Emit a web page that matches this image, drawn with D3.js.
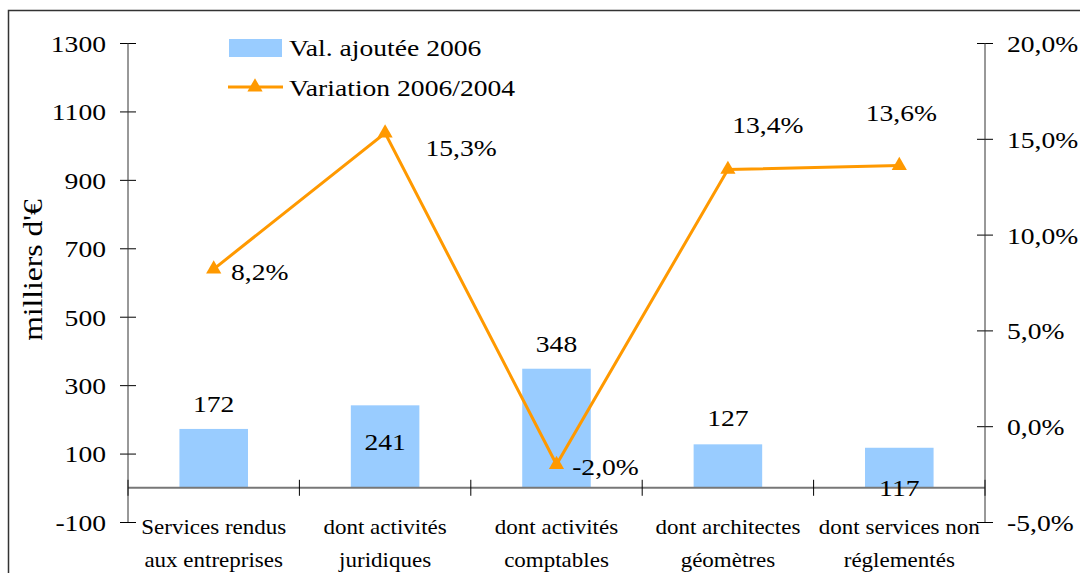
<!DOCTYPE html>
<html>
<head>
<meta charset="utf-8">
<script src="https://cdn.jsdelivr.net/npm/d3@7"></script>
<style>
  body { margin: 0; background: #fff; }
</style>
</head>
<body>
<div id="vis"></div>
<script>
var w = 1080, h = 573;
var serif = "'Liberation Serif', 'Times New Roman', serif";
var sx = 1.15; // the original text is a bit wider than Times

// data
var categories = [["Services rendus", "aux entreprises"], ["dont activités", "juridiques"],
                  ["dont activités", "comptables"], ["dont architectes", "géomètres"],
                  ["dont services non", "réglementés"]];
var valeurs = [172, 241, 348, 127, 117];
var variation = [8.2, 15.3, -2.0, 13.4, 13.6];
var leftTicks = [-100, 100, 300, 500, 700, 900, 1100, 1300];
var rightTicks = [-5, 0, 5, 10, 15, 20];

// label offsets (px relative to mark) as drawn in the original
var valLabelDy = [-25, 36, -25, -27, 40];
var varLabelDx = [46, 76, 49, 40, 2];
var varLabelDy = [3, 15, 2, -45, -53];

var pL = 128, pR = 985, pT = 43, pB = 522;

// widen a text around its anchor point
function stretch(sel) {
  sel.each(function() {
    var t = d3.select(this);
    var tx = +t.attr("x") || 0, ty = +t.attr("y") || 0;
    t.attr("x", 0).attr("y", 0)
      .attr("transform", "translate(" + tx + "," + ty + ") scale(" + sx + ",1)");
  });
}

var svg = d3.select("div#vis").append("svg")
  .attr("width", w)
  .attr("height", h);

svg.append("rect").attr("x", 8.5).attr("y", 10.5).attr("width", w).attr("height", h)
  .style("fill", "none").style("stroke", "#333").style("stroke-width", 1.5);

var x = d3.scaleBand().domain(d3.range(categories.length)).range([pL, pR]);
var y = d3.scaleLinear().domain([-100, 1300]).range([pB, pT]);
var y2 = d3.scaleLinear().domain([-5, 20]).range([pB, pT]);
var cx = function(i) { return x(i) + x.bandwidth() / 2; };

var fmt = function(v) { return v.toFixed(1).replace(".", ",") + "%"; };

// bars
var bw = x.bandwidth() * 0.4;
svg.selectAll("rect.bar").data(valeurs).enter().append("rect")
  .attr("class", "bar")
  .attr("x", function(d, i) { return cx(i) - bw / 2; })
  .attr("y", function(d) { return y(d); })
  .attr("width", bw)
  .attr("height", function(d) { return y(0) - y(d); })
  .style("fill", "#99CCFF");

// zero baseline
svg.append("line").attr("x1", pL).attr("x2", pR).attr("y1", y(0)).attr("y2", y(0))
  .style("stroke", "#777").style("stroke-width", 2);
svg.selectAll("line.ctick").data(d3.range(categories.length + 1)).enter().append("line")
  .attr("class", "ctick")
  .attr("x1", function(d) { return pL + d * x.step(); })
  .attr("x2", function(d) { return pL + d * x.step(); })
  .attr("y1", y(0) - 8).attr("y2", y(0) + 8)
  .style("stroke", "#000").style("stroke-width", 1);

// left axis
var axL = svg.append("g").attr("transform", "translate(" + pL + ",0)")
  .call(d3.axisLeft(y).tickValues(leftTicks).tickSize(8).tickPadding(14)
    .tickFormat(function(d) { return String(d); }));
axL.selectAll(".tick line").clone().attr("x2", 8);
axL.select(".domain").remove();
axL.append("line").attr("y1", pT).attr("y2", pB).style("stroke", "#333");
axL.selectAll("text").style("font-size", "24px").style("font-family", serif).attr("dy", "0.35em").call(stretch);

// right axis
var axR = svg.append("g").attr("transform", "translate(" + pR + ",0)")
  .call(d3.axisRight(y2).tickValues(rightTicks).tickSize(8).tickPadding(14).tickFormat(fmt));
axR.selectAll(".tick line").clone().attr("x2", -8);
axR.select(".domain").remove();
axR.append("line").attr("y1", pT).attr("y2", pB).style("stroke", "#333");
axR.selectAll("text").style("font-size", "24px").style("font-family", serif).attr("dy", "0.35em").call(stretch);

// category labels (two lines)
[0, 1].forEach(function(k) {
  svg.selectAll("text.cat" + k).data(categories).enter().append("text")
    .attr("class", "cat" + k)
    .attr("text-anchor", "middle")
    .attr("x", function(d, i) { return cx(i); })
    .attr("y", 534 + k * 33)
    .style("font-family", serif)
    .style("font-size", "20px")
    .text(function(d) { return d[k]; })
    .call(stretch);
});

// bar value labels
svg.selectAll("text.val").data(valeurs).enter().append("text")
  .attr("class", "val")
  .attr("text-anchor", "middle")
  .attr("x", function(d, i) { return cx(i); })
  .attr("y", function(d, i) { return y(d) + valLabelDy[i]; })
  .attr("dy", "0.35em")
  .style("font-family", serif)
  .style("font-size", "24px")
  .text(function(d) { return d; })
  .call(stretch);

// line
var line = d3.line()
  .x(function(d, i) { return cx(i); })
  .y(function(d) { return y2(d); });
svg.append("path").datum(variation).attr("d", line)
  .style("fill", "none").style("stroke", "#FF9900").style("stroke-width", 3);

var tri = d3.symbol().type(d3.symbolTriangle).size(100);
svg.selectAll("path.mk").data(variation).enter().append("path")
  .attr("class", "mk")
  .attr("d", tri)
  .attr("transform", function(d, i) { return "translate(" + cx(i) + "," + y2(d) + ")"; })
  .style("fill", "#FF9900");

svg.selectAll("text.var").data(variation).enter().append("text")
  .attr("class", "var")
  .attr("text-anchor", "middle")
  .attr("x", function(d, i) { return cx(i) + varLabelDx[i]; })
  .attr("y", function(d, i) { return y2(d) + varLabelDy[i]; })
  .attr("dy", "0.35em")
  .style("font-family", serif)
  .style("font-size", "24px")
  .text(fmt)
  .call(stretch);

// y title
svg.append("text")
  .attr("transform", "translate(42,270) rotate(-90) scale(1.17,1)")
  .attr("text-anchor", "middle")
  .style("font-family", serif)
  .style("font-size", "27px")
  .text("milliers d'€");

// legend
var lg = svg.append("g").style("font-family", serif).style("font-size", "24px");
lg.append("rect").attr("x", 229).attr("y", 39).attr("width", 53).attr("height", 18).style("fill", "#99CCFF");
lg.append("text").attr("x", 289).attr("y", 48).attr("dy", "0.35em").text("Val. ajoutée 2006").call(stretch);
lg.append("line").attr("x1", 228).attr("x2", 283).attr("y1", 87).attr("y2", 87)
  .style("stroke", "#FF9900").style("stroke-width", 3);
lg.append("path").attr("d", tri).attr("transform", "translate(255,87)").style("fill", "#FF9900");
lg.append("text").attr("x", 289).attr("y", 88).attr("dy", "0.35em").text("Variation 2006/2004").call(stretch);
</script>
</body>
</html>
